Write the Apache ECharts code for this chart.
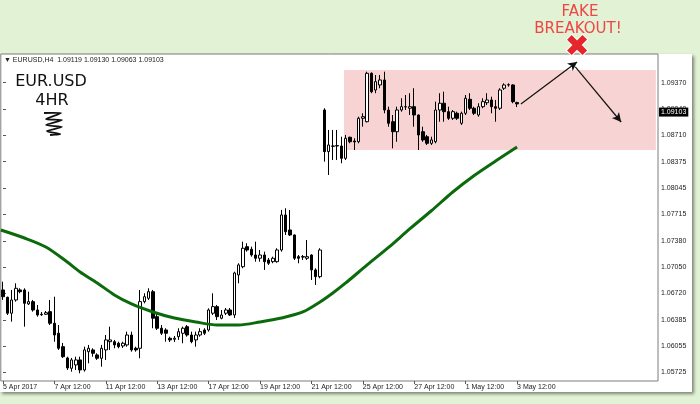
<!DOCTYPE html>
<html><head><meta charset="utf-8">
<script src="https://cdn.jsdelivr.net/npm/echarts@6/dist/echarts.min.js"></script>
<style>html,body{margin:0;padding:0;background:#e2f2d5;}#c{width:700px;height:404px;}</style>
</head><body><div id="c"></div>
<script>
// ---- data (EURUSD H4, bar 0 = 5 Apr 2017 12:00) ----
const opens = [1.06761,1.06669,1.06468,1.06635,1.06761,1.06761,1.06585,1.06614,1.06509,1.06455,1.06455,1.06488,1.06342,1.06216,1.06047,1.05905,1.05775,1.05817,1.05880,1.05754,
1.05984,1.06006,1.05943,1.05901,1.06006,1.06110,1.06110,1.06090,1.06056,1.06069,1.06194,1.06027,1.06027,1.06614,1.06656,1.06739,1.06425,1.06279,1.06257,1.06153,
1.06140,1.06173,1.06216,1.06299,1.06194,1.06132,1.06194,1.06257,1.06257,1.06468,1.06551,1.06405,1.06468,1.06509,1.06446,1.06950,1.07054,1.07306,1.07273,1.07201,
1.07160,1.07201,1.07138,1.07117,1.07117,1.07264,1.07705,1.07516,1.07453,1.07180,1.07180,1.07160,1.07201,1.07013,1.06928,1.09026,1.08502,1.08573,1.08573,1.08573,
1.08418,1.08683,1.08636,1.08627,1.08922,1.08879,1.09488,1.09278,1.09341,1.09404,1.09026,1.08879,1.08753,1.09026,1.09068,1.09048,1.09068,1.08963,1.08753,1.08690,
1.08607,1.08627,1.09026,1.09111,1.09005,1.08922,1.08985,1.08859,1.08985,1.09161,1.09048,1.08963,1.09068,1.09118,1.09152,1.09068,1.09048,1.09300,1.09341,1.09341,
1.09119];
const highs = [1.06865,1.06676,1.06761,1.06845,1.06782,1.06782,1.06739,1.06635,1.06572,1.06484,1.06496,1.06635,1.06676,1.06320,1.06094,1.05921,1.05905,1.05921,1.05921,1.06047,
1.06069,1.06027,1.05964,1.06069,1.06194,1.06299,1.06132,1.06110,1.06110,1.06236,1.06236,1.06047,1.06761,1.06719,1.06782,1.06761,1.06468,1.06320,1.06279,1.06173,
1.06182,1.06279,1.06299,1.06320,1.06236,1.06236,1.06279,1.06279,1.06530,1.06719,1.06572,1.06509,1.06534,1.06534,1.06991,1.07097,1.07369,1.07349,1.07306,1.07369,
1.07264,1.07243,1.07164,1.07180,1.07286,1.07768,1.07789,1.07768,1.07460,1.07201,1.07201,1.07390,1.07210,1.07034,1.07286,1.09048,1.08775,1.08775,1.08775,1.08690,
1.08712,1.08690,1.08670,1.08942,1.08985,1.09508,1.09500,1.09467,1.09467,1.09508,1.09068,1.08963,1.09068,1.09174,1.09215,1.09237,1.09300,1.08970,1.08816,1.08712,
1.08690,1.09131,1.09237,1.09257,1.09068,1.09026,1.09005,1.09005,1.09215,1.09237,1.09068,1.09111,1.09174,1.09237,1.09194,1.09152,1.09300,1.09362,1.09362,1.09350,
1.09130];
const lows = [1.06635,1.06446,1.06362,1.06614,1.06719,1.06299,1.06572,1.06488,1.06425,1.06434,1.06446,1.06320,1.06110,1.06006,1.05905,1.05754,1.05733,1.05754,1.05712,1.05733,
1.05838,1.05921,1.05880,1.05795,1.05880,1.06006,1.06027,1.06027,1.06031,1.06047,1.05984,1.05984,1.05901,1.06593,1.06635,1.06279,1.06257,1.06194,1.06110,1.06106,
1.06106,1.06132,1.06090,1.06173,1.06090,1.06047,1.06173,1.06194,1.06236,1.06446,1.06383,1.06392,1.06446,1.06434,1.06408,1.06845,1.07034,1.07243,1.07180,1.07117,
1.07117,1.07013,1.07076,1.07097,1.07104,1.07243,1.07453,1.07440,1.07138,1.07097,1.07138,1.07138,1.06887,1.06824,1.06908,1.08376,1.08208,1.08397,1.08397,1.08356,
1.08397,1.08607,1.08523,1.08607,1.08816,1.08870,1.09237,1.09237,1.09300,1.08985,1.08816,1.08544,1.08627,1.09005,1.09026,1.08963,1.08816,1.08523,1.08627,1.08586,
1.08586,1.08607,1.08879,1.08879,1.08901,1.08901,1.08901,1.08838,1.08963,1.09026,1.08963,1.08942,1.09048,1.09089,1.08985,1.08879,1.09026,1.09278,1.09320,1.09111,
1.09063];
const closes = [1.06676,1.06468,1.06635,1.06782,1.06739,1.06593,1.06614,1.06509,1.06446,1.06450,1.06475,1.06342,1.06194,1.06027,1.05921,1.05779,1.05880,1.05880,1.05754,1.06006,
1.06027,1.05964,1.05901,1.06027,1.06132,1.06132,1.06069,1.06047,1.06090,1.06194,1.06006,1.06006,1.06614,1.06676,1.06739,1.06405,1.06279,1.06216,1.06216,1.06132,
1.06153,1.06236,1.06279,1.06194,1.06110,1.06194,1.06236,1.06216,1.06509,1.06551,1.06425,1.06446,1.06509,1.06446,1.06975,1.07076,1.07286,1.07264,1.07201,1.07160,
1.07201,1.07117,1.07097,1.07160,1.07264,1.07705,1.07495,1.07453,1.07160,1.07160,1.07175,1.07180,1.07013,1.06928,1.07264,1.08502,1.08586,1.08570,1.08578,1.08418,
1.08670,1.08627,1.08624,1.08922,1.08942,1.09488,1.09257,1.09383,1.09404,1.09026,1.08859,1.08753,1.09026,1.09068,1.09065,1.09068,1.08963,1.08712,1.08649,1.08607,
1.08649,1.09026,1.09111,1.09005,1.08922,1.09005,1.08922,1.08985,1.09174,1.09048,1.08985,1.09068,1.09131,1.09152,1.09068,1.09048,1.09278,1.09341,1.09345,1.09131,
1.09103];

// moving average, read at selected bars
const maBars   = [-0.5,5,10,15,18,22,26,30,35,40,45,50,55,60,65,70,74,77,80,85,90,95,100,105,110,115,120];
const maValues = [1.07516,1.07415,1.07302,1.07113,1.06987,1.06849,1.06698,1.06585,1.06484,1.06408,1.06358,1.06320,1.06320,1.06358,1.06408,1.06484,1.06610,1.06723,1.06849,1.07076,1.07296,1.07532,1.07758,1.07994,1.08202,1.08385,1.08561];

const xTickBars   = [0,12,24,36,48,60,72,84,96,108,120];
const xTickLabels = ['5 Apr 2017','7 Apr 12:00','11 Apr 12:00','13 Apr 12:00','17 Apr 12:00','19 Apr 12:00','21 Apr 12:00','25 Apr 12:00','27 Apr 12:00','1 May 12:00','3 May 12:00'];
const yTickValues = [1.09370,1.09040,1.08710,1.08375,1.08045,1.07715,1.07380,1.07050,1.06720,1.06385,1.06055,1.05725];

// annotations (bar index, price)
const rangeBars   = [79.6, 152.4];
const rangePrices = [1.08523, 1.09530];
const arrowUp   = [[120.9, 1.09102], [134.0, 1.09631]];
const arrowDown = [[133.6, 1.09568], [144.3, 1.08875]];

// ---- chart ----
const chart = echarts.init(document.getElementById('c'));
const last = opens.length - 1;
const candleData = opens.map((o, i) => [i, o, closes[i], lows[i], highs[i]]);
const maData = maBars.map((b, i) => [b, maValues[i]]);
const header = '\u25BC EURUSD,H4  ' + [opens[last], highs[last], lows[last], closes[last]].map(v => v.toFixed(5)).join(' ');
const FONT = 'Liberation Sans';

chart.setOption({
  backgroundColor: '#e2f2d5',
  animation: false,
  grid: { left: 0.5, top: 54, width: 657.5, height: 327, show: true, backgroundColor: '#fff', borderColor: '#7c7c7c', borderWidth: 1 },
  xAxis: {
    type: 'value', min: -0.513, max: 152.9,
    axisLine: { show: false }, splitLine: { show: false },
    axisTick: { show: true, customValues: xTickBars, length: 3, lineStyle: { color: '#555' } },
    axisLabel: { customValues: xTickBars, formatter: v => xTickLabels[Math.round(v / 12)], align: 'left',
                 fontSize: 7, fontFamily: FONT, color: '#222', margin: 3 }
  },
  yAxis: {
    type: 'value', position: 'right', min: 1.05615, max: 1.09731,
    axisLine: { show: false }, splitLine: { show: false },
    axisTick: { show: true, customValues: yTickValues, length: 3, lineStyle: { color: '#555' } },
    axisLabel: { customValues: yTickValues, formatter: v => v.toFixed(5), fontSize: 7, fontFamily: FONT, color: '#222', margin: 3 }
  },
  graphic: [
    { type: 'rect', z: -1, shape: { x: 0, y: 54, width: 692, height: 338 },
      style: { fill: '#fff', shadowBlur: 3, shadowOffsetX: 2, shadowOffsetY: 2, shadowColor: 'rgba(0,0,0,0.45)' } },
    { type: 'text', x: 4, y: 57, z: 10, style: { text: header, font: '7px ' + FONT, fill: '#222' } },
    { type: 'text', x: 51, y: 82, z: 10, style: { text: 'EUR.USD', font: '16px DejaVu Sans', fill: '#111', align: 'center', verticalAlign: 'middle' } },
    { type: 'text', x: 52, y: 100.5, z: 10, style: { text: '4HR', font: '16px DejaVu Sans', fill: '#111', align: 'center', verticalAlign: 'middle' } },
    { type: 'polyline', z: 10, shape: { points: [[44,113],[61,113],[46,119],[62,120],[46,125],[62,127],[47,131],[60,134],[50,135]], smooth: 0.2 },
      style: { stroke: '#111', lineWidth: 1.8, fill: null } },
    { type: 'text', x: 580, y: 12, z: 10, style: { text: 'FAKE', font: '15px DejaVu Sans', fill: '#f04545', align: 'center', verticalAlign: 'middle' } },
    { type: 'text', x: 578, y: 29, z: 10, style: { text: 'BREAKOUT!', font: '15px DejaVu Sans', fill: '#f04545', align: 'center', verticalAlign: 'middle' } },
    { type: 'text', x: 577, y: 48, z: 10, style: { text: '\u2716', font: 'bold 30px DejaVu Sans', fill: '#e5262b', stroke: '#fff', lineWidth: 2,
      align: 'center', verticalAlign: 'middle', shadowBlur: 3, shadowOffsetX: 1.5, shadowOffsetY: 1.5, shadowColor: 'rgba(0,0,0,0.5)' } }
  ],
  series: [
    { type: 'line', data: [], z: 1, silent: true,
      markArea: { silent: true, itemStyle: { color: '#f8d3d3' },
        data: [[{ coord: [rangeBars[0], rangePrices[1]] }, { coord: [rangeBars[1], rangePrices[0]] }]] },
      markLine: { silent: true, symbol: ['none', 'arrow'], symbolSize: [7, 9], label: { show: false },
        lineStyle: { color: '#111', width: 1.2, type: 'solid' },
        data: [[{ coord: arrowUp[0] }, { coord: arrowUp[1] }], [{ coord: arrowDown[0] }, { coord: arrowDown[1] }]] } },
    { type: 'candlestick', data: candleData, encode: { x: 0, y: [1, 2, 3, 4] }, barWidth: 3, z: 3,
      itemStyle: { color: '#fff', color0: '#000', borderColor: '#000', borderColor0: '#000', borderWidth: 1 },
      markLine: { silent: true, symbol: 'none', z: 10,
        lineStyle: { color: 'rgba(255,255,255,0)', width: 1, type: 'solid' },
        label: { show: true, position: 'end', distance: 1, formatter: closes[last].toFixed(5), color: '#fff', backgroundColor: '#000',
                 fontSize: 7, fontFamily: FONT, padding: [1, 2, 1, 2], opacity: 1 },
        data: [{ yAxis: closes[last] }] } },
    { type: 'line', data: maData, smooth: 0.3, symbol: 'none', z: 4, silent: true,
      lineStyle: { color: '#0b6a0b', width: 3 } }
  ]
});
</script></body></html>
